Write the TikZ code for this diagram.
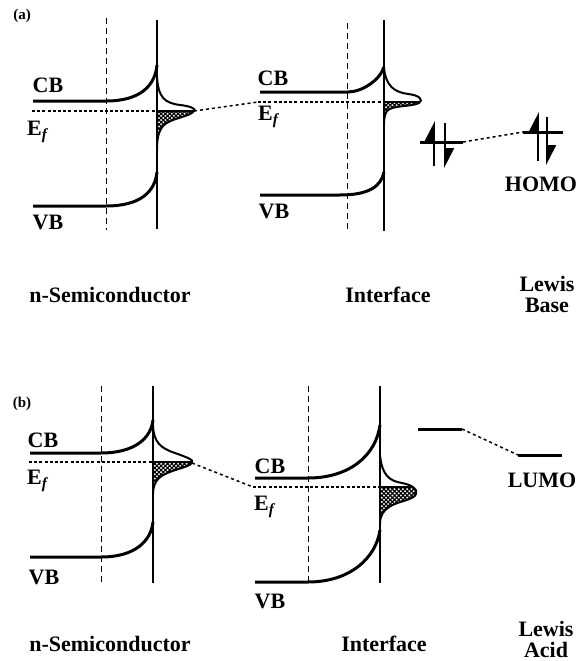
\documentclass[tikz,border=0pt]{standalone}
\usepackage{fontspec}
\setmainfont{Liberation Serif}
\usetikzlibrary{arrows.meta,patterns.meta}

\begin{document}
\begin{tikzpicture}[x=1pt, y=-1pt,
  band/.style={line width=3pt},
  surf/.style={line width=2pt},
  bulk/.style={line width=1pt, dash pattern=on 6pt off 4pt},
  fermi/.style={line width=2.8pt, dash pattern=on 3pt off 2.2pt},
  link/.style={line width=1.5pt, dash pattern=on 3pt off 3pt},
  lobe/.style={line width=2pt},
  states/.style={pattern={Hatch[angle=45, distance=3pt, line width=1.2pt]}},
  level/.style={line width=3pt},
  spin/.style={line width=1.8pt, -{Triangle[left, length=18pt, width=18pt]}},
  lbl/.style={font=\bfseries\fontsize{22}{21}\selectfont, inner sep=0pt, align=center},
  tag/.style={font=\bfseries\fontsize{15}{16}\selectfont, inner sep=0pt}
]
  \useasboundingbox (0,0) rectangle (579,661);

  % (a) semiconductor
  \node[tag] (tagA) at (22,16) {(a)};
  \draw[bulk] (106,18) -- (106,230);
  \draw[surf] (157,20) -- (157,229);
  \draw[band] (33,101) -- (106,101) .. controls (140,101) and (155,86) .. (157,65);
  \draw[band] (33,206) -- (106,206) .. controls (140,206) and (155,192) .. (157,172);
  \draw[fermi] (32,111) -- (157,111);
  \begin{scope}
    \clip (157,111) rectangle (200,160);
    \fill[states] (157,76) .. controls (158,98) and (165,103) .. (180,105)
      .. controls (190,106) and (197,109) .. (194,111)
      .. controls (190,117) and (170,118) .. (163,126)
      .. controls (158,132) and (157,140) .. (157,150) -- cycle;
  \end{scope}
  \draw[lobe] (157,76) .. controls (158,98) and (165,103) .. (180,105)
    .. controls (190,106) and (197,109) .. (194,111)
    .. controls (190,117) and (170,118) .. (163,126)
    .. controls (158,132) and (157,140) .. (157,150);
  \draw[line width=1.6pt] (157,111) -- (194,111);
  \coordinate (tipA) at (194,111);
  \node[lbl] (cbA1) at (48,85) {CB};
  \node[lbl, anchor=west] (efA1) at (27,132) {E\textsubscript{\itshape f}};
  \node[lbl] (vbA1) at (48,222) {VB};

  % (a) interface
  \coordinate (efA2) at (258,102);
  \draw[bulk] (347,23) -- (347,232);
  \draw[surf] (384,20) -- (384,231);
  \draw[band] (260,92) -- (348,92) .. controls (362,92) and (380,80) .. (384,67);
  \draw[band] (260,195) -- (340,195) .. controls (368,195) and (381,187) .. (384,172);
  \draw[fermi] (efA2) -- (384,102);
  \begin{scope}
    \clip (384,102) rectangle (430,130);
    \fill[states] (384,68) .. controls (386,86) and (394,92) .. (408,94)
      .. controls (419,95) and (424,100) .. (419,103)
      .. controls (411,107) and (392,105) .. (387,111)
      .. controls (385,114) and (384,118) .. (384,124) -- cycle;
  \end{scope}
  \draw[lobe] (384,68) .. controls (386,86) and (394,92) .. (408,94)
    .. controls (419,95) and (424,100) .. (419,103)
    .. controls (411,107) and (392,105) .. (387,111)
    .. controls (385,114) and (384,118) .. (384,124);
  \draw[line width=1.6pt] (384,102) -- (420,102);
  \node[lbl] (cbA2) at (273,78) {CB};
  \node[lbl, anchor=west] (efA2lbl) at (258,117) {E\textsubscript{\itshape f}};
  \node[lbl] (vbA2) at (274,211) {VB};
  \draw[link] (tipA) -- (efA2);

  % (a) Lewis base
  \coordinate (homoL) at (463,142);
  \coordinate (homoR) at (523,132);
  \draw[level] (420,142) -- (homoL);
  \draw[level] (homoR) -- (563,132);
  \draw[link] (homoL) -- (homoR);
  \draw[spin] (434,166) -- (434,121);
  \draw[spin] (445,123) -- (445,168);
  \draw[spin] (538,161) -- (538,112);
  \draw[spin] (547,117) -- (547,165);
  \node[lbl] (homo) at (541,184) {HOMO};

  \node[lbl] (semiA) at (110,295) {n-Semiconductor};
  \node[lbl] (ifaceA) at (388,295) {Interface};
  \node[lbl] (baseA) at (547,294) {Lewis\\Base};

  % (b) semiconductor
  \node[tag] (tagB) at (22,404) {(b)};
  \draw[bulk] (101,386) -- (101,583);
  \draw[surf] (153,386) -- (153,583);
  \draw[band] (30,453) -- (101,453) .. controls (135,453) and (151,438) .. (153,420);
  \draw[band] (30,557) -- (101,557) .. controls (135,557) and (151,541) .. (153,522);
  \draw[fermi] (29,462) -- (153,462);
  \begin{scope}
    \clip (153,462) rectangle (200,500);
    \fill[states] (153,426) .. controls (154,442) and (160,448) .. (175,453)
      .. controls (186,457) and (195,460) .. (192,463)
      .. controls (188,468) and (168,470) .. (159,478)
      .. controls (155,482) and (153,487) .. (153,494) -- cycle;
  \end{scope}
  \draw[lobe] (153,426) .. controls (154,442) and (160,448) .. (175,453)
    .. controls (186,457) and (195,460) .. (192,463)
    .. controls (188,468) and (168,470) .. (159,478)
    .. controls (155,482) and (153,487) .. (153,494);
  \draw[line width=1.6pt] (153,462) -- (192,462);
  \coordinate (tipB) at (192,463);
  \node[lbl] (cbB1) at (43,440) {CB};
  \node[lbl, anchor=west] (efB1) at (27,481) {E\textsubscript{\itshape f}};
  \node[lbl] (vbB1) at (44,577) {VB};

  % (b) interface
  \coordinate (efB2) at (253,487);
  \draw[bulk] (308,386) -- (308,583);
  \draw[surf] (380,386) -- (380,583);
  \draw[band] (255,478) -- (308,478) .. controls (350,478) and (376,455) .. (380,425);
  \draw[band] (255,582) -- (308,582) .. controls (350,582) and (376,558) .. (380,530);
  \draw[fermi] (efB2) -- (380,487);
  \begin{scope}
    \clip (380,487) rectangle (430,530);
    \fill[states] (380,455) .. controls (382,476) and (390,481) .. (402,483)
      .. controls (412,485) and (418,489) .. (416,494)
      .. controls (414,500) and (398,501) .. (389,507)
      .. controls (383,511) and (380,516) .. (380,524) -- cycle;
  \end{scope}
  \draw[lobe] (380,455) .. controls (382,476) and (390,481) .. (402,483)
    .. controls (412,485) and (418,489) .. (416,494)
    .. controls (414,500) and (398,501) .. (389,507)
    .. controls (383,511) and (380,516) .. (380,524);
  \draw[line width=1.6pt] (380,487) -- (413,487);
  \node[lbl] (cbB2) at (270,466) {CB};
  \node[lbl, anchor=west] (efB2lbl) at (254,507) {E\textsubscript{\itshape f}};
  \node[lbl] (vbB2) at (270,601) {VB};
  \draw[link] (tipB) -- (efB2);

  % (b) Lewis acid
  \coordinate (lumoL) at (462,429);
  \coordinate (lumoR) at (518,455);
  \draw[level] (418,429) -- (lumoL);
  \draw[level] (lumoR) -- (562,455);
  \draw[link] (lumoL) -- (lumoR);
  \node[lbl] (lumo) at (542,480) {LUMO};

  \node[lbl] (semiB) at (110,644) {n-Semiconductor};
  \node[lbl] (ifaceB) at (384,644) {Interface};
  \node[lbl] (acidB) at (546,639) {Lewis\\Acid};
\end{tikzpicture}
\end{document}
